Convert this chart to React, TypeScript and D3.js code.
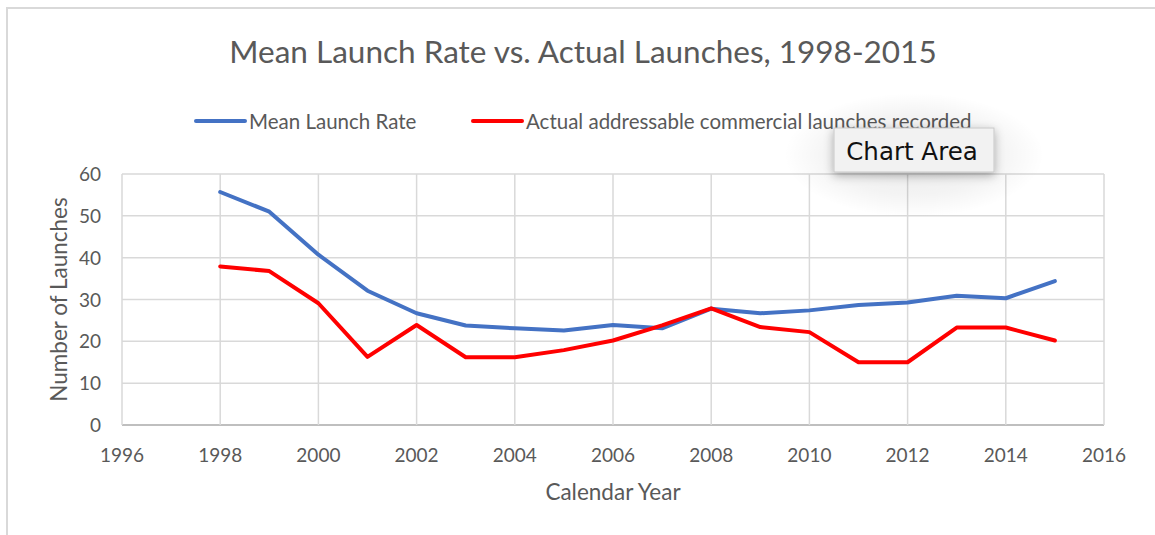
import React, { useRef, useEffect } from 'react';
import * as d3 from 'd3';

// years and series values
const years = [1998, 1999, 2000, 2001, 2002, 2003, 2004, 2005, 2006, 2007, 2008, 2009, 2010, 2011, 2012, 2013, 2014, 2015];
const meanRate = [55.7, 51.0, 40.7, 32.1, 26.7, 23.8, 23.1, 22.6, 23.9, 23.1, 27.8, 26.7, 27.4, 28.7, 29.3, 30.9, 30.3, 34.4];
const actualLaunches = [37.9, 36.8, 29.1, 16.3, 23.9, 16.2, 16.2, 17.9, 20.2, 23.8, 27.9, 23.4, 22.2, 15.0, 15.0, 23.3, 23.3, 20.2];
const xTicks = [1996, 1998, 2000, 2002, 2004, 2006, 2008, 2010, 2012, 2014, 2016];
const yTicks = [0, 10, 20, 30, 40, 50, 60];

const seriesNames = ['Mean Launch Rate', 'Actual addressable commercial launches recorded'];
const seriesColors = ['#4472C4', '#FF0000'];

const WIDTH = 1155;
const HEIGHT = 535;
const FONT = 'Lato, "Open Sans", sans-serif';

const App: React.FC = () => {
  const svgRef = useRef<SVGSVGElement>(null);

  useEffect(() => {
    if (!svgRef.current) return;
    const svg = d3.select(svgRef.current);
    svg.selectAll('*').remove();

    const plot = { left: 122, right: 1104, top: 174, bottom: 425 };

    const xScale = d3.scaleLinear().domain([1996, 2016]).range([plot.left, plot.right]);
    const yScale = d3.scaleLinear().domain([0, 60]).range([plot.bottom, plot.top]);

    // outer chart border (only top and left visible in the crop)
    svg.append('path')
      .attr('d', `M7,${HEIGHT} L7,8 L${WIDTH},8`)
      .attr('fill', 'none')
      .attr('stroke', '#d9d9d9')
      .attr('stroke-width', 2);

    // title
    svg.append('text')
      .attr('x', 583)
      .attr('y', 63)
      .attr('text-anchor', 'middle')
      .style('font-family', FONT)
      .style('font-size', '31.5px')
      .style('fill', '#595959')
      .text('Mean Launch Rate vs. Actual Launches, 1998-2015');

    // legend
    const legendX = [196, 473];
    seriesNames.forEach((name, i) => {
      const lg = svg.append('g').attr('transform', `translate(${legendX[i]}, 121)`);
      lg.append('line')
        .attr('x1', 0).attr('x2', 49)
        .attr('y1', 0).attr('y2', 0)
        .attr('stroke', seriesColors[i])
        .attr('stroke-width', 4)
        .attr('stroke-linecap', 'round');
      lg.append('text')
        .attr('x', 53)
        .attr('y', 7.5)
        .style('font-family', FONT)
        .style('font-size', '20.5px')
        .style('fill', '#595959')
        .text(name);
    });

    // gridlines
    const grid = svg.append('g');
    yTicks.forEach(t => {
      grid.append('line')
        .attr('x1', plot.left).attr('x2', plot.right)
        .attr('y1', yScale(t)).attr('y2', yScale(t))
        .attr('stroke', t === 0 ? '#bfbfbf' : '#d9d9d9')
        .attr('stroke-width', t === 0 ? 2 : 1.5);
    });
    xTicks.forEach(t => {
      grid.append('line')
        .attr('x1', xScale(t)).attr('x2', xScale(t))
        .attr('y1', plot.top).attr('y2', plot.bottom)
        .attr('stroke', '#d9d9d9')
        .attr('stroke-width', 1.5);
    });

    // tick labels
    const tickStyle = (sel: d3.Selection<SVGTextElement, unknown, null, undefined>) =>
      sel.style('font-family', FONT).style('font-size', '19px').style('fill', '#595959');

    yTicks.forEach(t => {
      svg.append('text')
        .attr('x', 101)
        .attr('y', yScale(t) + 7)
        .attr('text-anchor', 'end')
        .call(tickStyle)
        .text(String(t));
    });
    xTicks.forEach(t => {
      svg.append('text')
        .attr('x', xScale(t))
        .attr('y', 462)
        .attr('text-anchor', 'middle')
        .call(tickStyle)
        .text(String(t));
    });

    // axis titles
    svg.append('text')
      .attr('x', 613)
      .attr('y', 500)
      .attr('text-anchor', 'middle')
      .style('font-family', FONT)
      .style('font-size', '22.5px')
      .style('fill', '#595959')
      .text('Calendar Year');

    svg.append('text')
      .attr('transform', `translate(67, ${(plot.top + plot.bottom) / 2}) rotate(-90)`)
      .attr('text-anchor', 'middle')
      .style('font-family', FONT)
      .style('font-size', '22.5px')
      .style('fill', '#595959')
      .text('Number of Launches');

    // lines
    const line = d3.line<number>()
      .x((_, i) => xScale(years[i]))
      .y(d => yScale(d));

    [meanRate, actualLaunches].forEach((values, i) => {
      svg.append('path')
        .datum(values)
        .attr('fill', 'none')
        .attr('stroke', seriesColors[i])
        .attr('stroke-width', 4)
        .attr('stroke-linejoin', 'round')
        .attr('stroke-linecap', 'round')
        .attr('d', line);
    });

    // "Chart Area" tooltip with a soft halo
    const defs = svg.append('defs');
    const halo = defs.append('radialGradient').attr('id', 'halo');
    halo.append('stop').attr('offset', '0%').attr('stop-color', '#000').attr('stop-opacity', 0.09);
    halo.append('stop').attr('offset', '65%').attr('stop-color', '#000').attr('stop-opacity', 0.045);
    halo.append('stop').attr('offset', '100%').attr('stop-color', '#000').attr('stop-opacity', 0);

    const shadow = defs.append('filter')
      .attr('id', 'tipShadow')
      .attr('x', '-30%').attr('y', '-60%')
      .attr('width', '160%').attr('height', '220%');
    shadow.append('feDropShadow')
      .attr('dx', 0).attr('dy', 3)
      .attr('stdDeviation', 5)
      .attr('flood-color', '#000')
      .attr('flood-opacity', 0.3);

    svg.append('ellipse')
      .attr('cx', 914).attr('cy', 155)
      .attr('rx', 130).attr('ry', 62)
      .attr('fill', 'url(#halo)');

    const tip = svg.append('g');
    tip.append('rect')
      .attr('x', 834).attr('y', 128)
      .attr('width', 160).attr('height', 44)
      .attr('fill', '#f2f2f2')
      .attr('stroke', '#c8c8c8')
      .attr('stroke-width', 1)
      .attr('filter', 'url(#tipShadow)');
    tip.append('text')
      .attr('x', 912)
      .attr('y', 160)
      .attr('text-anchor', 'middle')
      .style('font-family', '"DejaVu Sans", "Liberation Sans", sans-serif')
      .style('font-size', '24.5px')
      .style('fill', '#111')
      .text('Chart Area');
  }, []);

  return (
    <div style={{ position: 'absolute', left: 0, top: 0, background: '#fff' }}>
      <svg ref={svgRef} width={WIDTH} height={HEIGHT} style={{ display: 'block' }} />
    </div>
  );
};

export default App;
